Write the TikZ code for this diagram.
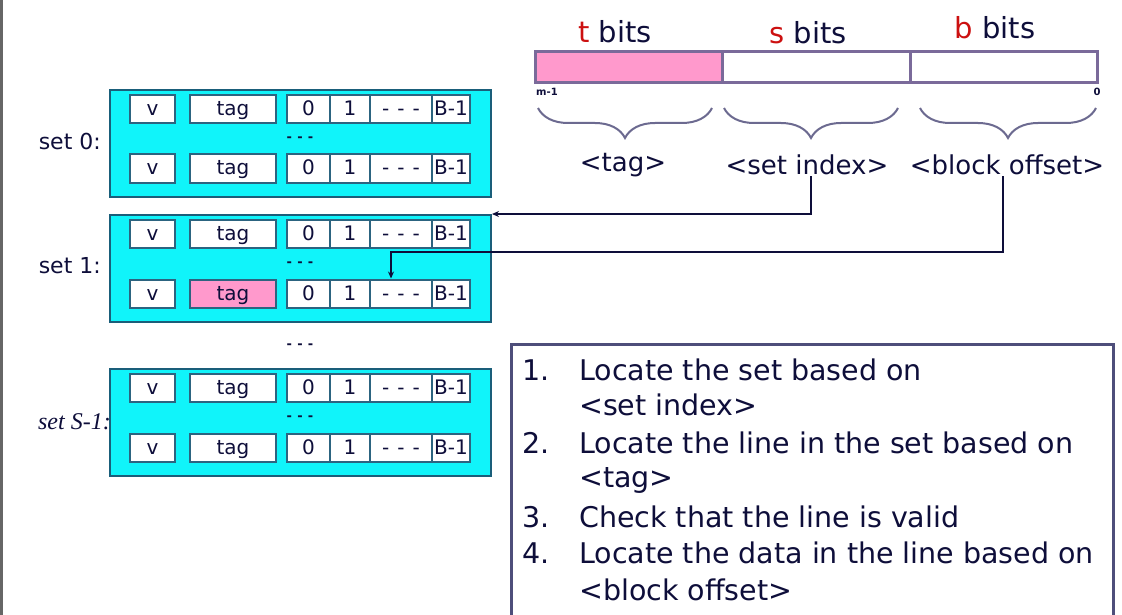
\documentclass[tikz,border=0pt]{standalone}
\usepackage{fontspec}
\setmainfont{DejaVu Sans}
\newfontfamily\seriffont{Liberation Serif}
\usetikzlibrary{arrows.meta,decorations.pathreplacing,calc}

\definecolor{ink}{HTML}{0E0E3A}
\definecolor{cacheblue}{HTML}{10F4FA}
\definecolor{setedge}{HTML}{1A5E7A}
\definecolor{celledge}{HTML}{2C6480}
\definecolor{tagpink}{HTML}{FF99CC}
\definecolor{baredge}{HTML}{7A6A9A}
\definecolor{braceline}{HTML}{6C6A90}
\definecolor{fieldred}{HTML}{CC1010}
\definecolor{noteedge}{HTML}{4E4E7A}

\newcommand\threedash{-\hspace{0.4em}-\hspace{0.4em}-}

\tikzset{
  setbox/.style={draw=setedge, line width=2.5pt, fill=cacheblue,
    minimum width=381pt, minimum height=107pt, inner sep=0pt},
  cell/.style={draw=celledge, line width=2pt, fill=white, inner sep=0pt,
    minimum height=28pt, text height=13pt, text depth=0pt,
    font=\fontsize{20}{20}\selectfont, text=ink},
  setlabel/.style={anchor=east, inner sep=0pt, font=\fontsize{22}{22}\selectfont, text=ink},
  rowdots/.style={inner sep=0pt, font=\bfseries\fontsize{13}{13}\selectfont, text=ink},
  field/.style={draw=baredge, line width=3pt, minimum height=31pt, inner sep=0pt},
  fieldname/.style={inner sep=0pt, font=\fontsize{29}{29}\selectfont, text=ink},
  partname/.style={inner sep=1pt, font=\fontsize{26}{26}\selectfont, text=ink},
  bitpos/.style={inner sep=0pt, font=\bfseries\fontsize{10}{10}\selectfont, text=ink},
  partbrace/.style={draw=braceline, line width=2pt,
    decorate, decoration={brace, mirror, amplitude=30pt, aspect=0.5}},
  conn/.style={draw=ink, line width=2.5pt,
    -{Stealth[length=7pt, width=6pt]}},
  step text/.style={anchor=west, inner sep=0pt, font=\fontsize{28.5}{28.5}\selectfont, text=ink},
}

% one cache set: name, top edge y, fill of the tag cell in the second line
\newcommand\cacheset[3]{%
  \node[setbox] (#1) at (300.5,#2+53.5) {};
  \foreach \r/\dy/\tf in {1/19/white, 2/78.5/#3} {
    \node[cell, minimum width=45pt] (#1v\r) at (152.5,#2+\dy) {v};
    \node[cell, minimum width=86pt, fill=\tf] (#1t\r) at (233,#2+\dy) {tag};
    \node[cell, minimum width=43pt] (#1a\r) at (308.5,#2+\dy) {0};
    \node[cell, minimum width=40pt] (#1b\r) at (350,#2+\dy) {1};
    \node[cell, minimum width=62pt] (#1x\r) at (401,#2+\dy) {\threedash};
    \node[cell, minimum width=38pt] (#1e\r) at (451,#2+\dy) {B-1};
  }
  \node[rowdots] (#1dots) at (300,#2+49) {\threedash};
}

\begin{document}
\begin{tikzpicture}[x=1pt, y=-1pt]
\useasboundingbox (0,0) rectangle (1122,615);
\fill[white] (0,0) rectangle (1122,615);
\draw[gray!80!black, line width=3pt] (1,0) -- (1,615);

% ---- address fields ----
\node[field, fill=tagpink, minimum width=187pt] (ftag) at (628.5,67.5) {};
\node[field, fill=white, minimum width=188pt] (fset) at (816,67.5) {};
\node[field, fill=white, minimum width=187pt] (foff) at (1003.5,67.5) {};

\node[fieldname] (ntag) at (615,32) {\textcolor{fieldred}{t} bits};
\node[fieldname] (nset) at (808,33) {\textcolor{fieldred}{s} bits};
\node[fieldname] (noff) at (995,28) {\textcolor{fieldred}{b} bits};

\node[bitpos, anchor=north west] (msb) at (536,88) {m-1};
\node[bitpos, anchor=north] (lsb) at (1097,88) {0};

\draw[partbrace] (538,108) -- (712,108);
\draw[partbrace] (724,108) -- (898,108);
\draw[partbrace] (920,108) -- (1096,108);

\node[partname] (ltag) at (623,165) {<tag>};
\node[partname] (lsi) at (807,165) {<set index>};
\node[partname] (lbo) at (1007,165) {<block offset>};

% ---- cache sets ----
\cacheset{s0}{90}{white}
\cacheset{s1}{215}{tagpink}
\cacheset{sL}{369}{white}
\node[rowdots] (setdots) at (300,346) {\threedash};

\node[setlabel] (l0) at (101,141) {set 0:};
\node[setlabel] (l1) at (101,266) {set 1:};
\node[setlabel, font=\seriffont\itshape\fontsize{24}{24}\selectfont] (lL) at (111,422) {set S-1:};

% ---- index and offset paths ----
\coordinate (s1top) at (492,214);
\coordinate (offbend) at (391,252);
\draw[conn] ([xshift=4pt]lsi.south) |- (s1top);
\draw[conn] ([xshift=-4pt]lbo.south) |- (offbend) -- (offbend |- s1x2.north);

% ---- steps ----
\node[draw=noteedge, line width=2.5pt, minimum width=602pt, minimum height=282pt,
      inner sep=0pt, anchor=north west] (steps) at (510,343) {};
\node[step text] (n1) at (522,370) {1.};
\node[step text] (t1) at (579,370) {Locate the set based on};
\node[step text] (t1b) at (579,405) {<set index>};
\node[step text] (n2) at (522,443) {2.};
\node[step text] (t2) at (579,443) {Locate the line in the set based on};
\node[step text] (t2b) at (579,480) {<tag>};
\node[step text] (n3) at (522,517) {3.};
\node[step text] (t3) at (579,517) {Check that the line is valid};
\node[step text] (n4) at (522,553) {4.};
\node[step text] (t4) at (579,553) {Locate the data in the line based on};
\node[step text] (t4b) at (579,590) {<block offset>};
\end{tikzpicture}
\end{document}
